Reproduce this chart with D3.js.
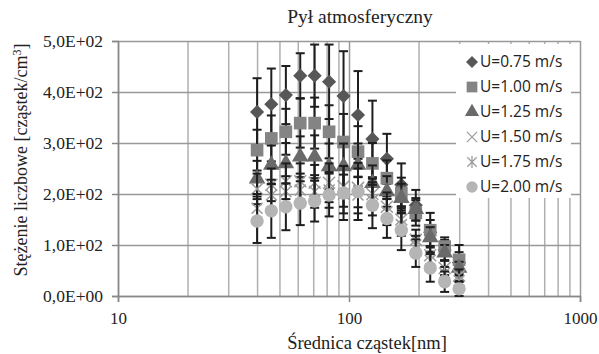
<!DOCTYPE html>
<html>
<head>
<meta charset="utf-8">
<script src="https://cdn.jsdelivr.net/npm/d3@7"></script>
<style>
  body { margin: 0; background: #fff; }
  svg { display: block; }
</style>
</head>
<body>
<div id="chart"></div>
<script>
// Dane
const diameters = [40, 46.1, 53.3, 61.5, 71.0, 82.0, 94.7, 109.4, 126.3, 145.9, 168.5, 194.6, 224.7, 259.5, 299.6];

const u075 = [361, 376, 394, 432, 432, 420, 392, 355, 308, 269, 218, 178, 125, 90, 65];
const u075Err = [66, 70, 57, 44, 61, 73, 88, 86, 75, 49, 42, 30, 38, 20, 35];
const u100 = [286, 309, 322, 339, 339, 322, 302, 283, 260, 231, 202, 163, 129, 97, 71];
const u100Err = [40, 45, 45, 48, 50, 52, 55, 50, 40, 35, 30, 25, 20, 18, 15];
const u125 = [230, 257, 260, 273, 273, 254, 254, 257, 221, 205, 192, 170, 115, 85, 55];
const u125Err = [35, 38, 40, 40, 42, 45, 45, 42, 35, 30, 28, 22, 20, 15, 12];
const u150 = [210, 218, 225, 225, 222, 222, 215, 212, 200, 175, 150, 110, 80, 55, 40];
const u150Err = [30, 32, 35, 35, 35, 38, 40, 38, 30, 28, 25, 20, 18, 14, 12];
const u175 = [172, 198, 205, 208, 205, 208, 200, 198, 188, 165, 140, 100, 70, 45, 30];
const u175Err = [28, 30, 30, 32, 32, 35, 38, 36, 30, 26, 22, 18, 15, 12, 10];
const u200 = [147, 167, 175, 182, 186, 198, 202, 205, 178, 152, 129, 84, 55, 28, 14];
const u200Err = [43, 53, 46, 43, 40, 42, 53, 56, 45, 38, 39, 27, 27, 20, 14];

const seriesNames = ['U=0.75 m/s', 'U=1.00 m/s', 'U=1.25 m/s', 'U=1.50 m/s', 'U=1.75 m/s', 'U=2.00 m/s'];
const seriesValues = [u075, u100, u125, u150, u175, u200];
const seriesErrors = [u075Err, u100Err, u125Err, u150Err, u175Err, u200Err];

const yTicks = [0, 100, 200, 300, 400, 500];
const yTickLabels = ['0,0E+00', '1,0E+02', '2,0E+02', '3,0E+02', '4,0E+02', '5,0E+02'];
const xTicks = [10, 100, 1000];
const xMinorGrid = [20, 30, 40, 50, 60, 70, 80, 90, 200, 300, 400, 500, 600, 700, 800, 900];

const title = 'Pył atmosferyczny';
const xTitle = 'Średnica cząstek[nm]';

// Wymiary
const W = 599, H = 354;
const margin = {top: 41, right: 19, bottom: 58, left: 118};
const width = W - margin.left - margin.right;
const height = H - margin.top - margin.bottom;
const serif = '"Liberation Serif", "Times New Roman", serif';
const textColor = '#222';

const svg = d3.select('#chart').append('svg')
    .attr('width', W)
    .attr('height', H);

const g = svg.append('g')
    .attr('transform', `translate(${margin.left},${margin.top})`);

// Skale
const x = d3.scaleLog()
    .domain([10, 1000])
    .range([0, width]);

const y = d3.scaleLinear()
    .domain([0, 500])
    .range([height, 0]);

// Siatka
g.append('g')
    .call(d3.axisBottom(x).tickValues(xMinorGrid).tickSize(-height).tickFormat(''))
    .attr('transform', `translate(0,${height})`)
    .call(s => s.select('.domain').remove())
    .selectAll('line')
    .attr('stroke', '#b0b0b0')
    .attr('stroke-width', 1.5);

g.append('g')
    .call(d3.axisLeft(y).tickValues(yTicks).tickSize(-width).tickFormat(''))
    .call(s => s.select('.domain').remove())
    .selectAll('line')
    .attr('stroke', '#999')
    .attr('stroke-width', 1.5);

g.append('g')
    .call(d3.axisBottom(x).tickValues(xTicks).tickSize(-height).tickFormat(''))
    .attr('transform', `translate(0,${height})`)
    .call(s => s.select('.domain').remove())
    .selectAll('line')
    .attr('stroke', '#999')
    .attr('stroke-width', 1.5);

// Legenda - tło (zakrywa siatkę)
const legend = g.append('g')
    .attr('transform', `translate(${338},${3})`);

legend.append('rect')
    .attr('width', 115)
    .attr('height', 154)
    .attr('fill', '#fff');

// Osie
const yAxis = g.append('g')
    .call(d3.axisLeft(y).tickValues(yTicks).tickSize(6).tickPadding(9)
        .tickFormat((d, i) => yTickLabels[i]));
yAxis.select('.domain').attr('stroke', '#888').attr('stroke-width', 1.5);
yAxis.selectAll('line').attr('stroke', '#888').attr('stroke-width', 1.5);
yAxis.selectAll('text')
    .attr('font-family', serif)
    .attr('font-size', 17.5)
    .attr('fill', textColor);

const xAxis = g.append('g')
    .attr('transform', `translate(0,${height})`)
    .call(d3.axisBottom(x).tickValues(xTicks).tickSize(6).tickPadding(10)
        .tickFormat(d3.format('d')));
xAxis.select('.domain').attr('stroke', '#888').attr('stroke-width', 1.5);
xAxis.selectAll('line').attr('stroke', '#888').attr('stroke-width', 1.5);
xAxis.selectAll('text')
    .attr('font-family', serif)
    .attr('font-size', 17)
    .attr('fill', textColor);

// Markery
const diamondPath = d3.symbol().type(d3.symbolSquare).size(100)();
const squarePath = d3.symbol().type(d3.symbolSquare).size(160)();
const trianglePath = d3.symbol().type(d3.symbolTriangle).size(120)();
const timesPath = 'M-6,-6L6,6M-6,6L6,-6';
const asteriskPath = 'M-5.5,-5.5L5.5,5.5M-5.5,5.5L5.5,-5.5M0,-7L0,7';

const markers = [
    {path: diamondPath, fill: '#575757', stroke: 'none', rotate: 45},
    {path: squarePath, fill: '#848484', stroke: 'none', rotate: 0},
    {path: trianglePath, fill: '#6a6a6a', stroke: 'none', rotate: 0},
    {path: timesPath, fill: 'none', stroke: '#9c9c9c', rotate: 0},
    {path: asteriskPath, fill: 'none', stroke: '#9c9c9c', rotate: 0},
    {path: d3.symbol().type(d3.symbolCircle).size(140)(), fill: '#b5b5b5', stroke: 'none', rotate: 0}
];

const cap = 4.5;

seriesValues.forEach((values, si) => {
    const pts = values.map((v, i) => ({d: diameters[i], v: v, e: seriesErrors[si][i]}));
    const sg = g.append('g').attr('class', `series-${si}`);

    // Słupki błędów
    const eb = sg.selectAll('.err')
        .data(pts)
        .enter().append('g')
        .attr('class', 'err')
        .attr('stroke', '#1e1e1e')
        .attr('stroke-width', 2);

    eb.append('line')
        .attr('x1', d => x(d.d)).attr('x2', d => x(d.d))
        .attr('y1', d => y(d.v + d.e)).attr('y2', d => y(Math.max(0, d.v - d.e)));
    eb.append('line')
        .attr('x1', d => x(d.d) - cap).attr('x2', d => x(d.d) + cap)
        .attr('y1', d => y(d.v + d.e)).attr('y2', d => y(d.v + d.e));
    eb.append('line')
        .attr('x1', d => x(d.d) - cap).attr('x2', d => x(d.d) + cap)
        .attr('y1', d => y(Math.max(0, d.v - d.e))).attr('y2', d => y(Math.max(0, d.v - d.e)));

    // Punkty
    const m = markers[si];
    sg.selectAll('.pt')
        .data(pts)
        .enter().append('path')
        .attr('class', 'pt')
        .attr('d', m.path)
        .attr('transform', d => `translate(${x(d.d)},${y(d.v)}) rotate(${m.rotate})`)
        .attr('fill', m.fill)
        .attr('stroke', m.stroke)
        .attr('stroke-width', 1.5);
});

// Legenda - wpisy
seriesNames.forEach((name, i) => {
    const m = markers[i];
    const lg = legend.append('g')
        .attr('transform', `translate(0, ${18 + i * 25})`);

    lg.append('path')
        .attr('d', m.path)
        .attr('transform', `translate(16,0) rotate(${m.rotate}) scale(0.85)`)
        .attr('fill', m.fill)
        .attr('stroke', m.stroke)
        .attr('stroke-width', 1.5);

    lg.append('text')
        .attr('x', 24)
        .attr('dy', '.35em')
        .attr('font-family', '"Open Sans", sans-serif')
        .attr('font-size', 15.5)
        .attr('fill', textColor)
        .text(name);
});

// Tytuły
svg.append('text')
    .attr('x', 360)
    .attr('y', 23)
    .attr('text-anchor', 'middle')
    .attr('font-family', serif)
    .attr('font-size', 19.5)
    .attr('fill', textColor)
    .text(title);

svg.append('text')
    .attr('x', 367)
    .attr('y', 349)
    .attr('text-anchor', 'middle')
    .attr('font-family', serif)
    .attr('font-size', 18.5)
    .attr('fill', textColor)
    .text(xTitle);

const yt = svg.append('text')
    .attr('transform', `translate(27,${160}) rotate(-90)`)
    .attr('text-anchor', 'middle')
    .attr('font-family', serif)
    .attr('font-size', 18)
    .attr('fill', textColor);
yt.append('tspan').text('Stężenie liczbowe [cząstek/cm');
yt.append('tspan').attr('dy', -6).attr('font-size', 12).text('3');
yt.append('tspan').attr('dy', 6).text(']');
</script>
</body>
</html>
